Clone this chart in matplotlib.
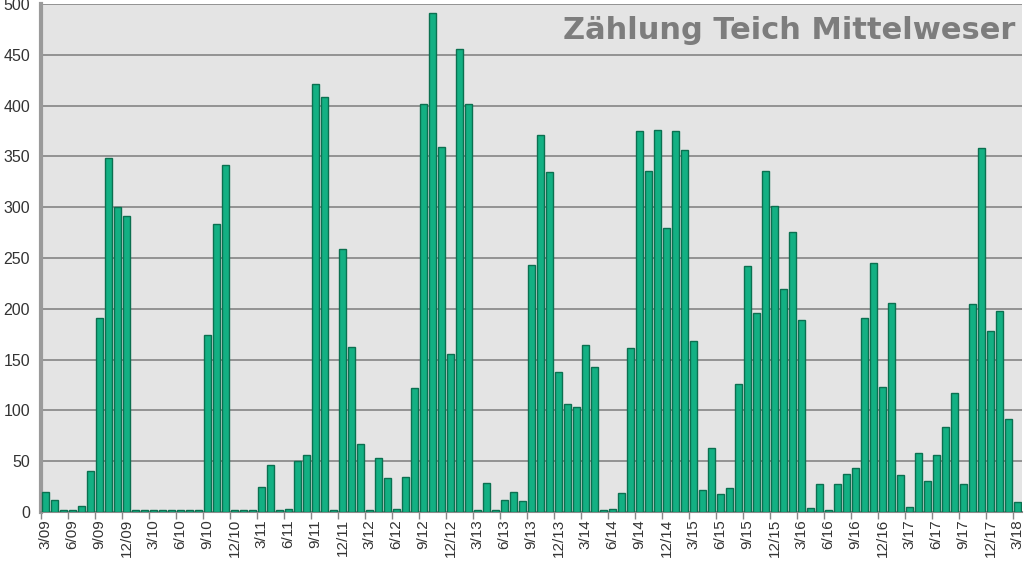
import matplotlib
matplotlib.use("Agg")
import matplotlib.pyplot as plt
import numpy as np

# Monthly counts from 3/09 to 3/18
months = []
for y in range(9, 19):
    for m in range(1, 13):
        if (y == 9 and m < 3) or (y == 18 and m > 3):
            continue
        months.append(f"{m}/{y:02d}")

values = [
    20, 12, 1.5, 1.5, 6, 40, 191, 348, 300, 291,          # 3/09 - 12/09
    1.5, 1.5, 1.5, 1.5, 1.5, 1.5, 1.5, 1.5, 174, 283, 342, 1.5,  # 1/10 - 12/10
    1.5, 1.5, 25, 46, 1.5, 3, 50, 56, 421, 408, 1.5, 259,     # 1/11 - 12/11
    162, 67, 1.5, 53, 33, 3, 34, 122, 402, 491, 359, 156,  # 1/12 - 12/12
    456, 402, 1.5, 29, 1.5, 12, 20, 11, 243, 371, 335, 138,  # 1/13 - 12/13
    106, 103, 164, 143, 1.5, 3, 19, 161, 375, 336, 376, 280,  # 1/14 - 12/14
    375, 356, 168, 22, 63, 18, 24, 126, 242, 196, 336, 301,  # 1/15 - 12/15
    219, 276, 189, 4, 28, 1.5, 28, 37, 43, 191, 245, 123,  # 1/16 - 12/16
    206, 36, 5, 58, 31, 56, 84, 117, 28, 205, 358, 178,  # 1/17 - 12/17
    198, 92, 10,                                      # 1/18 - 3/18
]

title = "Zählung Teich Mittelweser"

plt.rcParams["font.family"] = ["Liberation Sans", "DejaVu Sans"]

fig = plt.figure(figsize=(10.24, 5.63), dpi=100)
fig.patch.set_facecolor("white")
ax = fig.add_axes([41/1024, 1 - 512/563, 981/1024, 508/563])
ax.set_facecolor("#e4e4e4")

x = np.arange(len(values))
ax.bar(x, values, width=0.7, color="#13b083", edgecolor="#0b7050",
       linewidth=1.0, zorder=3)

ax.set_ylim(0, 500)
ax.set_xlim(-0.5, len(values) - 0.5)
ax.set_yticks(np.arange(0, 501, 50))
ax.yaxis.grid(True, color="#8c8c8c", linewidth=1.3, zorder=1)
ax.tick_params(axis="y", length=0, pad=8, labelsize=11.5, labelcolor="#333333")

label_idx = [i for i, m in enumerate(months) if int(m.split("/")[0]) % 3 == 0]
ax.set_xticks(label_idx)
ax.set_xticklabels([months[i] for i in label_idx], rotation=90, fontsize=11,
                   color="#333333")
ax.tick_params(axis="x", length=0, pad=5)
ax.set_xticks([i - 0.5 for i in label_idx], minor=True)
ax.tick_params(axis="x", which="minor", length=5, color="#888888", width=1)

for s in ["top", "right"]:
    ax.spines[s].set_visible(False)
ax.spines["left"].set_color("#9a9a9a")
ax.spines["left"].set_linewidth(3)
ax.spines["bottom"].set_color("#8c8c8c")
ax.spines["bottom"].set_linewidth(1.5)

ax.text(0.993, 0.948, title, transform=ax.transAxes, ha="right", va="center",
        fontsize=22, fontweight="bold", color="#7d7d7d",
        family="DejaVu Sans", zorder=5)

fig.savefig("out.png", dpi=100)
